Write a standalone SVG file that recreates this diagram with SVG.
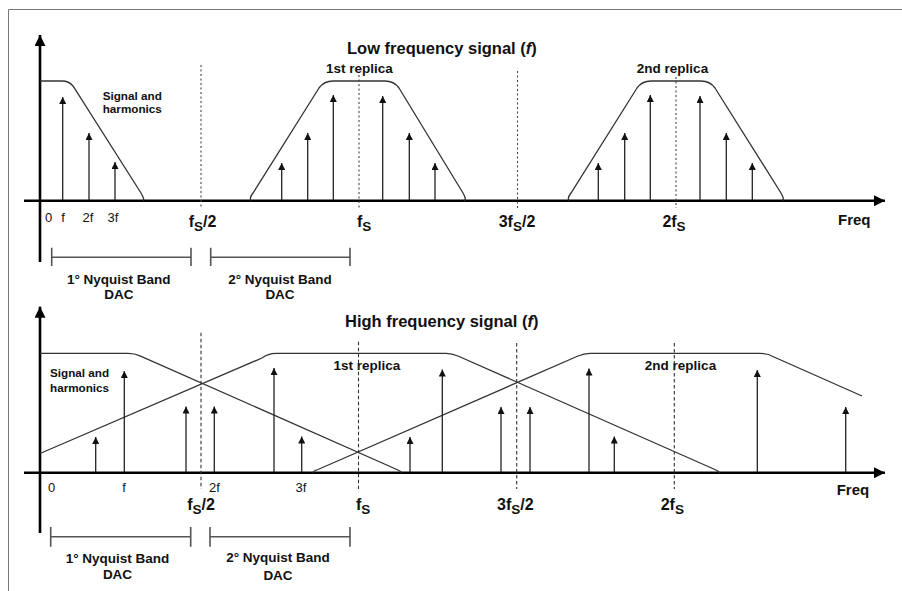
<svg xmlns="http://www.w3.org/2000/svg" width="902" height="591" viewBox="0 0 902 591">
<style>
  text { font-family: "Liberation Sans", Arial, sans-serif; fill: #111; }
  .b { font-weight: bold; }
  .title { font-size: 16.5px; font-weight: bold; }
  .rep { font-size: 13.5px; font-weight: bold; }
  .sig { font-size: 11.7px; font-weight: bold; }
  .tick { font-size: 13px; }
  .fs { font-size: 16px; font-weight: bold; }
  .band { font-size: 13.5px; font-weight: bold; }
  .freq { font-size: 15px; font-weight: bold; }
  .axis { stroke: #000; stroke-width: 2.6; fill: none; }
  .env { stroke: #333; stroke-width: 1.3; fill: none; }
  .spur { stroke: #222; stroke-width: 1.3; fill: none; marker-end: url(#ah); }
  .dot { stroke: #444; stroke-width: 1.1; stroke-dasharray: 2 2.5; fill: none; }
  .dash { stroke: #333; stroke-width: 1.1; stroke-dasharray: 3.5 2.5; fill: none; }
  .bandl { stroke: #555; stroke-width: 1.6; fill: none; }
</style>
<defs>
  <marker id="ah" viewBox="0 0 10 10" refX="10" refY="5" markerUnits="userSpaceOnUse" markerWidth="9" markerHeight="7" orient="auto">
    <path d="M0,0 L10,5 L0,10 z" fill="#111"/>
  </marker>
  <marker id="ax" viewBox="0 0 10 10" refX="10" refY="5" markerUnits="userSpaceOnUse" markerWidth="12" markerHeight="11" orient="auto">
    <path d="M0,0 L10,5 L0,10 z" fill="#000"/>
  </marker>
</defs>
<rect width="902" height="591" fill="#fff"/>
<path d="M8.5,591 V9.5 H902" stroke="#777" stroke-width="1" fill="none"/>

<!-- ============ TOP PANEL ============ -->
<g id="top-axes">
  <line class="axis" x1="40" y1="262" x2="40" y2="35" marker-end="url(#ax)"/>
  <line class="axis" x1="24" y1="200.7" x2="885" y2="200.7" marker-end="url(#ax)"/>
</g>
<g id="top-title"><text class="title" x="347" y="54">Low frequency signal (<tspan font-style="italic">f</tspan>)</text></g>

<g id="top-guides">
  <line class="dot" x1="201" y1="65" x2="201" y2="208"/>
  <line class="dot" x1="359" y1="75" x2="359" y2="208"/>
  <line class="dot" x1="517.5" y1="71" x2="517.5" y2="208"/>
  <line class="dot" x1="676" y1="77" x2="676" y2="208"/>
</g>

<g id="top-baseband">
  <path class="env" d="M40,81 L62,81 Q69,81 73,86 L141,193 Q145,200 143,200.5"/>
  <text class="sig" x="102.7" y="100">Signal and</text>
  <text class="sig" x="102.7" y="113.3">harmonics</text>
</g>
<g id="top-replica1">
  <path class="env" d="M251,200.5 Q249,198 253,193 L319,88 Q324,81 333,81 L385,81 Q394,81 399,88 L463,193 Q467,200 464,200.5"/>
  <text class="rep" x="359.5" y="73.3" text-anchor="middle">1st replica</text>
</g>
<g id="top-replica2">
  <path class="env" d="M569,200.5 Q567,198 571,193 L637,88 Q642,81 651,81 L701,81 Q710,81 715,88 L781,193 Q785,200 782,200.5"/>
  <text class="rep" x="672.5" y="73.3" text-anchor="middle">2nd replica</text>
</g>

<g id="top-connectors">
  <line class="spur" x1="62.7" y1="200" x2="62.7" y2="97"/>
  <line class="spur" x1="89" y1="200" x2="89" y2="133"/>
  <line class="spur" x1="115" y1="200" x2="115" y2="162"/>
  <line class="spur" x1="281.7" y1="200" x2="281.7" y2="163"/>
  <line class="spur" x1="307.7" y1="200" x2="307.7" y2="133"/>
  <line class="spur" x1="333.3" y1="200" x2="333.3" y2="95"/>
  <line class="spur" x1="382.7" y1="200" x2="382.7" y2="96"/>
  <line class="spur" x1="409.3" y1="200" x2="409.3" y2="133"/>
  <line class="spur" x1="435" y1="200" x2="435" y2="163"/>
  <line class="spur" x1="598.3" y1="200" x2="598.3" y2="163"/>
  <line class="spur" x1="624.7" y1="200" x2="624.7" y2="133"/>
  <line class="spur" x1="650.3" y1="200" x2="650.3" y2="95"/>
  <line class="spur" x1="700" y1="200" x2="700" y2="96"/>
  <line class="spur" x1="726.3" y1="200" x2="726.3" y2="133"/>
  <line class="spur" x1="752.3" y1="200" x2="752.3" y2="163"/>
</g>

<g id="top-labels">
  <text class="tick" x="48.5" y="221.7" text-anchor="middle">0</text>
  <text class="tick" x="63" y="221.7" text-anchor="middle">f</text>
  <text class="tick" x="88" y="221.7" text-anchor="middle">2f</text>
  <text class="tick" x="113" y="221.7" text-anchor="middle">3f</text>
  <text class="fs" x="202.5" y="226.7" text-anchor="middle">f<tspan dy="4" font-size="13.5">S</tspan><tspan dy="-4">/2</tspan></text>
  <text class="fs" x="357" y="226.7">f<tspan dy="4" font-size="13.5">S</tspan></text>
  <text class="fs" x="517" y="226.7" text-anchor="middle">3f<tspan dy="4" font-size="13.5">S</tspan><tspan dy="-4">/2</tspan></text>
  <text class="fs" x="674" y="226.7" text-anchor="middle">2f<tspan dy="4" font-size="13.5">S</tspan></text>
  <text class="freq" x="838" y="225">Freq</text>
</g>

<g id="top-band1">
  <path class="bandl" d="M51.7,247.7 V266 M51.7,257.3 H191 M191,247.7 V266"/>
  <text class="band" x="118.8" y="283.5" text-anchor="middle">1° Nyquist Band</text>
  <text class="band" x="118.8" y="298.5" text-anchor="middle">DAC</text>
</g>
<g id="top-band2">
  <path class="bandl" d="M210.7,247.7 V266 M210.7,257.3 H350 M350,247.7 V266"/>
  <text class="band" x="280" y="283.5" text-anchor="middle">2° Nyquist Band</text>
  <text class="band" x="280" y="298.5" text-anchor="middle">DAC</text>
</g>

<!-- ============ BOTTOM PANEL ============ -->
<g id="bottom-axes">
  <line class="axis" x1="40" y1="533" x2="40" y2="306.7" marker-end="url(#ax)"/>
  <line class="axis" x1="24" y1="472.7" x2="885" y2="472.7" marker-end="url(#ax)"/>
</g>
<g id="bottom-title"><text class="title" x="345" y="327.3">High frequency signal (<tspan font-style="italic">f</tspan>)</text></g>

<g id="bottom-baseband">
  <path class="env" d="M40,353.3 L128,353.3 Q135,353.3 140,355.8 L398,470 Q402,472 401,472.7"/>
  <text class="sig" x="50" y="377.3" font-size="12">Signal and</text>
  <text class="sig" x="50" y="391.7" font-size="12">harmonics</text>
</g>
<g id="bottom-replica1">
  <path class="env" d="M40,453.5 L262,358 Q268,353.3 276,353.3 L446,353.3 Q452,353.3 458,356 L716,470 Q720,472 719,472.7"/>
  <text class="rep" x="367" y="370" text-anchor="middle">1st replica</text>
</g>
<g id="bottom-replica2">
  <path class="env" d="M313,472.7 Q313,471 318,469.5 L578,356 Q584,353.3 590,353.3 L760,353.3 Q768,353.3 774,357 L862,396"/>
  <text class="rep" x="680.5" y="370" text-anchor="middle">2nd replica</text>
</g>

<g id="bottom-guides">
  <line class="dash" x1="201" y1="332.7" x2="201" y2="489"/>
  <line class="dash" x1="358.5" y1="341.7" x2="358.5" y2="489"/>
  <line class="dash" x1="516.7" y1="343" x2="516.7" y2="489"/>
  <line class="dash" x1="674.3" y1="343" x2="674.3" y2="489"/>
</g>

<g id="bottom-connectors">
  <line class="spur" x1="95.7" y1="472" x2="95.7" y2="437"/>
  <line class="spur" x1="124.3" y1="472" x2="124.3" y2="371"/>
  <line class="spur" x1="186" y1="472" x2="186" y2="406.5"/>
  <line class="spur" x1="214.3" y1="472" x2="214.3" y2="406.5"/>
  <line class="spur" x1="274" y1="472" x2="274" y2="368"/>
  <line class="spur" x1="301.7" y1="472" x2="301.7" y2="436.5"/>
  <line class="spur" x1="410" y1="472" x2="410" y2="437"/>
  <line class="spur" x1="442.3" y1="472" x2="442.3" y2="369.5"/>
  <line class="spur" x1="501" y1="472" x2="501" y2="407"/>
  <line class="spur" x1="530" y1="472" x2="530" y2="407"/>
  <line class="spur" x1="589" y1="472" x2="589" y2="368.5"/>
  <line class="spur" x1="614.3" y1="472" x2="614.3" y2="436.5"/>
  <line class="spur" x1="757.3" y1="472" x2="757.3" y2="370"/>
  <line class="spur" x1="845.7" y1="472" x2="845.7" y2="407"/>
</g>

<g id="bottom-labels">
  <text class="tick" x="51.7" y="492.3" text-anchor="middle">0</text>
  <text class="tick" x="124" y="492.3" text-anchor="middle">f</text>
  <text class="tick" x="214.5" y="492.3" text-anchor="middle">2f</text>
  <text class="tick" x="301" y="492.3" text-anchor="middle">3f</text>
  <text class="fs" x="201" y="510" text-anchor="middle">f<tspan dy="4" font-size="13.5">S</tspan><tspan dy="-4">/2</tspan></text>
  <text class="fs" x="356" y="510">f<tspan dy="4" font-size="13.5">S</tspan></text>
  <text class="fs" x="515.3" y="510" text-anchor="middle">3f<tspan dy="4" font-size="13.5">S</tspan><tspan dy="-4">/2</tspan></text>
  <text class="fs" x="672.3" y="510" text-anchor="middle">2f<tspan dy="4" font-size="13.5">S</tspan></text>
  <text class="freq" x="836.7" y="495">Freq</text>
</g>

<g id="bottom-band1">
  <path class="bandl" d="M50.7,527 V546.7 M50.7,536.7 H190.7 M190.7,527 V546.7"/>
  <text class="band" x="117.5" y="563.3" text-anchor="middle">1° Nyquist Band</text>
  <text class="band" x="117.5" y="579.3" text-anchor="middle">DAC</text>
</g>
<g id="bottom-band2">
  <path class="bandl" d="M210,527 V546.7 M210,536.7 H350 M350,527 V546.7"/>
  <text class="band" x="278" y="561.7" text-anchor="middle">2° Nyquist Band</text>
  <text class="band" x="278" y="580" text-anchor="middle">DAC</text>
</g>
</svg>
